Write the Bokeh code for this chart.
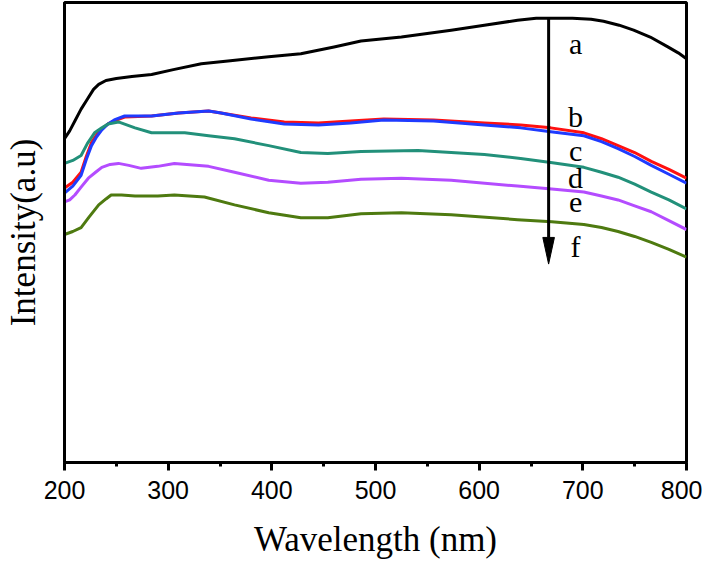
from bokeh.plotting import figure
from bokeh.models import Range1d, FixedTicker, Label
from bokeh.embed import file_html
from bokeh.resources import INLINE

# ---- data (arbitrary intensity units) ----
wl_a = [200, 205, 210, 216, 222, 228, 233, 240, 250, 265, 284, 305, 332, 360, 397, 428, 460, 486, 525, 573, 605, 637, 655, 669, 690, 708, 720, 735, 749, 765, 782, 792, 800]
int_a = [328, 336, 346, 358, 368, 378, 383, 387, 389, 391, 393, 398, 404, 407, 411, 414, 421, 427, 431, 438, 443, 448, 450, 450, 450, 449, 447, 443, 438, 431, 421, 415, 409]

wl_b = [200, 208, 216, 221, 226, 231, 236, 242, 248, 258, 284, 310, 339, 351, 380, 412, 445, 476, 508, 556, 605, 640, 669, 701, 718, 734, 750, 766, 783, 800]
int_b = [278, 284, 294, 310, 324, 332, 338, 343, 346, 350, 351, 354, 356, 354, 349, 345, 344, 346, 348, 347, 344, 342, 339, 334, 328, 321, 314, 305, 297, 288]

wl_c = [200, 208, 216, 221, 226, 231, 236, 242, 248, 258, 284, 310, 339, 351, 380, 412, 445, 476, 508, 556, 605, 640, 669, 701, 718, 734, 750, 766, 783, 800]
int_c = [273, 280, 291, 307, 321, 330, 337, 343, 347, 351, 351, 354, 356, 354, 348, 343, 342, 344, 347, 346, 342, 339, 335, 331, 325, 318, 310, 301, 292, 283]

wl_d = [200, 208, 216, 222, 229, 236, 242, 252, 260, 268, 284, 300, 316, 339, 364, 397, 428, 454, 486, 541, 605, 640, 669, 701, 718, 734, 750, 766, 783, 800]
int_d = [303, 306, 311, 323, 334, 339, 343, 345, 342, 339, 334, 334, 334, 331, 328, 321, 314, 313, 315, 316, 312, 308, 304, 299, 294, 289, 282, 274, 266, 257]

wl_e = [200, 205, 210, 216, 223, 230, 236, 244, 252, 262, 274, 290, 306, 339, 364, 397, 428, 454, 486, 525, 573, 637, 670, 701, 718, 734, 750, 766, 783, 800]
int_e = [264, 266, 271, 279, 288, 294, 299, 302, 303, 301, 298, 300, 303, 300, 294, 286, 283, 284, 287, 288, 286, 280, 277, 274, 270, 266, 260, 254, 245, 236]

wl_f = [200, 208, 216, 224, 233, 240, 245, 255, 268, 290, 306, 335, 364, 397, 428, 454, 486, 525, 573, 637, 670, 701, 718, 734, 750, 766, 783, 800]
int_f = [231, 234, 238, 249, 261, 267, 271, 271, 270, 270, 271, 269, 261, 253, 248, 248, 252, 253, 251, 246, 244, 241, 238, 234, 229, 223, 216, 208]

series_labels = ["a", "b", "c", "d", "e", "f"]
label_y = [424, 351, 316, 289, 263, 219]
colors = ["#000000", "#FF1010", "#1F3BFF", "#22907A", "#B44CFF", "#4E7A10"]

x_ticks = [200, 300, 400, 500, 600, 700, 800]
x_minor = [250, 350, 450, 550, 650, 750]
arrow_x = 667
arrow_y_start = 450
arrow_y_end = 201
head_len = 27
head_half = 5.6
label_x = 693

p = figure(width=702, height=561, output_backend="svg", toolbar_location=None,
           x_range=Range1d(200, 800), y_range=Range1d(0, 466),
           min_border_left=63, min_border_right=16, min_border_top=2, min_border_bottom=90)
p.background_fill_color = "white"
p.border_fill_color = "white"
p.grid.visible = False
p.outline_line_color = "black"
p.outline_line_width = 3

series = [(wl_a, int_a), (wl_b, int_b), (wl_c, int_c), (wl_d, int_d), (wl_e, int_e), (wl_f, int_f)]
for (xs, ys), c in zip(series, colors):
    p.line(xs, ys, line_color=c, line_width=3, line_join="round")

# x axis
xa = p.xaxis[0]
xa.ticker = FixedTicker(ticks=x_ticks, minor_ticks=x_minor)
xa.axis_line_width = 3
xa.major_tick_line_width = 3
xa.minor_tick_line_width = 3
xa.major_tick_in = 0
xa.major_tick_out = 8
xa.minor_tick_in = 0
xa.minor_tick_out = 4
xa.major_label_text_font = "Liberation Sans"
xa.major_label_text_font_size = "25px"
xa.major_label_text_color = "black"
xa.major_label_standoff = 10
xa.axis_label = "Wavelength (nm)"
xa.axis_label_text_font = "Liberation Serif"
xa.axis_label_text_font_style = "normal"
xa.axis_label_text_font_size = "35px"
xa.axis_label_text_color = "black"
xa.axis_label_standoff = 18

# y axis
ya = p.yaxis[0]
ya.axis_line_width = 3
ya.major_tick_line_color = None
ya.minor_tick_line_color = None
ya.major_tick_in = 0
ya.major_tick_out = 0
ya.minor_tick_in = 0
ya.minor_tick_out = 0
ya.major_label_standoff = 0
ya.major_label_text_font_size = "0px"
ya.axis_label = "Intensity(a.u)"
ya.axis_label_text_font = "Liberation Serif"
ya.axis_label_text_font_style = "normal"
ya.axis_label_text_font_size = "35px"
ya.axis_label_text_color = "black"
ya.axis_label_standoff = 22

# arrow: shaft + narrow head
p.segment(x0=[arrow_x], y0=[arrow_y_start], x1=[arrow_x], y1=[arrow_y_end + head_len],
          line_color="black", line_width=3)
p.patch([arrow_x - head_half, arrow_x + head_half, arrow_x],
        [arrow_y_end + head_len, arrow_y_end + head_len, arrow_y_end],
        fill_color="black", line_color="black", line_width=1)

for t, ly in zip(series_labels, label_y):
    p.add_layout(Label(x=label_x, y=ly, text=t, text_font="Liberation Serif",
                       text_font_size="30px", text_align="center", text_baseline="middle",
                       text_color="black"))

open("out.html", "w").write(file_html(p, INLINE))
